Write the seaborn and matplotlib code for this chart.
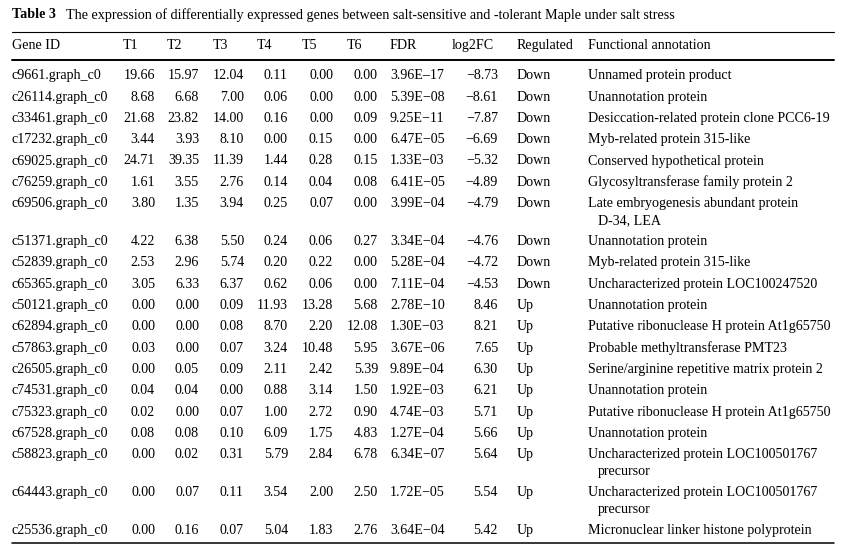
import matplotlib
matplotlib.use("Agg")
import matplotlib.pyplot as plt
import seaborn as sns

# ---- table data ----
gene_ids = ["c9661.graph_c0", "c26114.graph_c0", "c33461.graph_c0", "c17232.graph_c0",
            "c69025.graph_c0", "c76259.graph_c0", "c69506.graph_c0", "c51371.graph_c0",
            "c52839.graph_c0", "c65365.graph_c0", "c50121.graph_c0", "c62894.graph_c0",
            "c57863.graph_c0", "c26505.graph_c0", "c74531.graph_c0", "c75323.graph_c0",
            "c67528.graph_c0", "c58823.graph_c0", "c64443.graph_c0", "c25536.graph_c0"]
t1 = [19.66, 8.68, 21.68, 3.44, 24.71, 1.61, 3.80, 4.22, 2.53, 3.05,
      0.00, 0.00, 0.03, 0.00, 0.04, 0.02, 0.08, 0.00, 0.00, 0.00]
t2 = [15.97, 6.68, 23.82, 3.93, 39.35, 3.55, 1.35, 6.38, 2.96, 6.33,
      0.00, 0.00, 0.00, 0.05, 0.04, 0.00, 0.08, 0.02, 0.07, 0.16]
t3 = [12.04, 7.00, 14.00, 8.10, 11.39, 2.76, 3.94, 5.50, 5.74, 6.37,
      0.09, 0.08, 0.07, 0.09, 0.00, 0.07, 0.10, 0.31, 0.11, 0.07]
t4 = [0.11, 0.06, 0.16, 0.00, 1.44, 0.14, 0.25, 0.24, 0.20, 0.62,
      11.93, 8.70, 3.24, 2.11, 0.88, 1.00, 6.09, 5.79, 3.54, 5.04]
t5 = [0.00, 0.00, 0.00, 0.15, 0.28, 0.04, 0.07, 0.06, 0.22, 0.06,
      13.28, 2.20, 10.48, 2.42, 3.14, 2.72, 1.75, 2.84, 2.00, 1.83]
t6 = [0.00, 0.00, 0.09, 0.00, 0.15, 0.08, 0.00, 0.27, 0.00, 0.00,
      5.68, 12.08, 5.95, 5.39, 1.50, 0.90, 4.83, 6.78, 2.50, 2.76]
fdr = ["3.96E\u201317", "5.39E\u221208", "9.25E\u221211", "6.47E\u221205", "1.33E\u221203",
       "6.41E\u221205", "3.99E\u221204", "3.34E\u221204", "5.28E\u221204", "7.11E\u221204",
       "2.78E\u221210", "1.30E\u221203", "3.67E\u221206", "9.89E\u221204", "1.92E\u221203",
       "4.74E\u221203", "1.27E\u221204", "6.34E\u221207", "1.72E\u221205", "3.64E\u221204"]
log2fc = [-8.73, -8.61, -7.87, -6.69, -5.32, -4.89, -4.79, -4.76, -4.72, -4.53,
          8.46, 8.21, 7.65, 6.30, 6.21, 5.71, 5.66, 5.64, 5.54, 5.42]
regulated = ["Down"] * 10 + ["Up"] * 10
annotation = [
    ["Unnamed protein product"],
    ["Unannotation protein"],
    ["Desiccation-related protein clone PCC6-19"],
    ["Myb-related protein 315-like"],
    ["Conserved hypothetical protein"],
    ["Glycosyltransferase family protein 2"],
    ["Late embryogenesis abundant protein", "D-34, LEA"],
    ["Unannotation protein"],
    ["Myb-related protein 315-like"],
    ["Uncharacterized protein LOC100247520"],
    ["Unannotation protein"],
    ["Putative ribonuclease H protein At1g65750"],
    ["Probable methyltransferase PMT23"],
    ["Serine/arginine repetitive matrix protein 2"],
    ["Unannotation protein"],
    ["Putative ribonuclease H protein At1g65750"],
    ["Unannotation protein"],
    ["Uncharacterized protein LOC100501767", "precursor"],
    ["Uncharacterized protein LOC100501767", "precursor"],
    ["Micronuclear linker histone polyprotein"],
]
headers = ["Gene ID", "T1", "T2", "T3", "T4", "T5", "T6", "FDR", "log2FC",
           "Regulated", "Functional annotation"]
title_bold = "Table 3"
title_text = "The expression of differentially expressed genes between salt-sensitive and -tolerant Maple under salt stress"

# ---- layout (pixels) ----
W, H = 846, 552
FS = 10.1
header_x = [12, 123, 167, 213, 257, 302, 347, 390, 452, 517, 588]
value_right = [155, 199, 244, 288, 333, 378]
log2fc_right = 498
wrap_indent = 10
row_pitch = 21.3
wrap_extra = 16.7
y_first = 79.3        # baseline of first body row
y_header = 49.3
y_title = 18.5
rule_left, rule_right = 12, 834

sns.set_theme(style="white")
plt.rcParams["font.family"] = ["Liberation Serif", "DejaVu Serif"]

fig = plt.figure(figsize=(W / 100, H / 100), dpi=100)
ax = fig.add_axes([0, 0, 1, 1])
ax.set_xlim(0, W)
ax.set_ylim(H, 0)
ax.axis("off")

txt = dict(fontsize=FS, color="black", va="baseline")

# title
tb = ax.text(12, y_title, title_bold, fontweight="bold", ha="left", **txt)
fig.canvas.draw()
bb = tb.get_window_extent()
ax.text(bb.x1 + 10, y_title, title_text, ha="left", fontsize=FS + 0.1,
        color="black", va="baseline")

# rules
ax.plot([rule_left, rule_right], [32.3, 32.3], color="black", lw=0.8)
ax.plot([rule_left, rule_right], [60, 60], color="black", lw=1.4)
ax.plot([rule_left, rule_right], [542.5, 542.5], color="black", lw=1.1)

# header
for h, x in zip(headers, header_x):
    ax.text(x, y_header, h, ha="left", **txt)

# rows
cols = [t1, t2, t3, t4, t5, t6]
y = y_first
for i in range(len(gene_ids)):
    ax.text(header_x[0], y, gene_ids[i], ha="left", **txt)
    for c, xr in zip(cols, value_right):
        ax.text(xr, y, f"{c[i]:.2f}", ha="right", **txt)
    ax.text(header_x[7], y, fdr[i], ha="left", **txt)
    v = log2fc[i]
    s = f"{v:.2f}" if v >= 0 else "\u2212" + f"{abs(v):.2f}"
    ax.text(log2fc_right, y, s, ha="right", **txt)
    ax.text(header_x[9], y, regulated[i], ha="left", **txt)
    lines = annotation[i]
    ax.text(header_x[10], y, lines[0], ha="left", **txt)
    for k, extra in enumerate(lines[1:], start=1):
        ax.text(header_x[10] + wrap_indent, y + wrap_extra * k, extra, ha="left", **txt)
    y += row_pitch + wrap_extra * (len(lines) - 1)

fig.savefig("out.png", dpi=100)
